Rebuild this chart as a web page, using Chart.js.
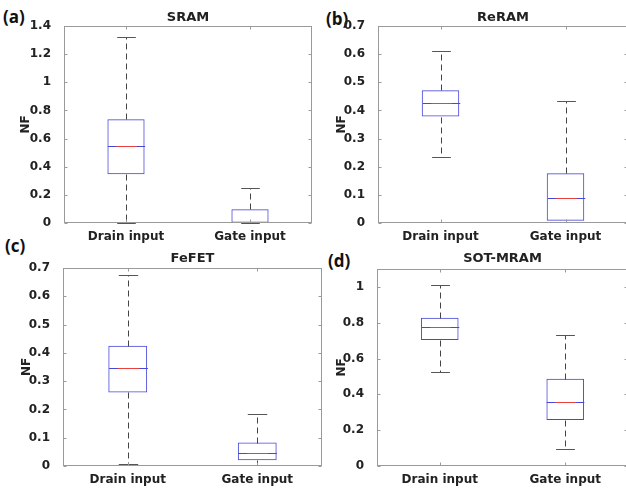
<!DOCTYPE html>
<html>
<head>
<meta charset="utf-8">
<script src="https://cdn.jsdelivr.net/npm/chart.js@4.4.1/dist/chart.umd.min.js"></script>
<style>
  html, body { margin: 0; padding: 0; background: #fff; overflow: hidden; }
  body { width: 626px; height: 489px; position: relative; }
  canvas { position: absolute; }
  .tag { position: absolute; font: bold 17px 'Open Sans', sans-serif; line-height: 1; color: #111; }
</style>
</head>
<body>
<div class="tag" style="left:3px;top:8px">(a)</div>
<div class="tag" style="left:326px;top:10px">(b)</div>
<div class="tag" style="left:5px;top:237px">(c)</div>
<div class="tag" style="left:328px;top:252px">(d)</div>
<canvas id="sram"></canvas>
<canvas id="reram"></canvas>
<canvas id="fefet"></canvas>
<canvas id="sot"></canvas>
<script>
const categories = ['Drain input', 'Gate input'];

// each box: [lower whisker, Q1, median, Q3, upper whisker]
const sramDrain = [0.002, 0.346, 0.549, 0.737, 1.324];
const sramGate = [0.000, 0.001, 0.004, 0.097, 0.247];
const reramDrain = [0.235, 0.378, 0.426, 0.472, 0.612];
const reramGate = [0.003, 0.008, 0.089, 0.177, 0.434];
const fefetDrain = [0.006, 0.260, 0.347, 0.425, 0.674];
const fefetGate = [0.002, 0.020, 0.045, 0.083, 0.183];
const sotDrain = [0.526, 0.703, 0.776, 0.828, 1.009];
const sotGate = [0.097, 0.257, 0.356, 0.487, 0.729];

const sramTicks = [0, 0.2, 0.4, 0.6, 0.8, 1, 1.2, 1.4];
const reramTicks = [0, 0.1, 0.2, 0.3, 0.4, 0.5, 0.6, 0.7];
const fefetTicks = [0, 0.1, 0.2, 0.3, 0.4, 0.5, 0.6, 0.7];
const sotTicks = [0, 0.2, 0.4, 0.6, 0.8, 1];

const FONT = "'DejaVu Sans', sans-serif";
const BOX = '#4848d8';
const AXIS = '#9a9a9a';
const TEXT = '#222';

// whiskers, caps and medians on top of the floating-bar boxes
const boxPlot = {
    id: 'boxPlot',
    afterDatasetsDraw(chart, args, opts) {
        const ctx = chart.ctx;
        const y = chart.scales.y;
        const meta = chart.getDatasetMeta(0);
        const line = (x1, y1, x2, y2) => {
            ctx.beginPath(); ctx.moveTo(x1, y1); ctx.lineTo(x2, y2); ctx.stroke();
        };
        ctx.save();
        ctx.lineWidth = 1;
        opts.stats.forEach((s, i) => {
            const bar = meta.data[i];
            const cx = Math.round(bar.x) + 0.5;
            const half = bar.width / 2;
            const [lo, q1, med, q3, hi] = s.map(v => Math.round(y.getPixelForValue(v)) + 0.5);
            ctx.strokeStyle = '#444';
            ctx.setLineDash([6, 4]);
            if (hi < q3) line(cx, q3, cx, hi);
            if (lo > q1) line(cx, q1, cx, lo);
            ctx.setLineDash([]);
            ctx.strokeStyle = '#555';
            line(cx - half / 2, hi, cx + half / 2, hi);
            line(cx - half / 2, lo, cx + half / 2, lo);
            ctx.strokeStyle = BOX;
            line(cx - half, med, cx + half, med);
            ctx.strokeStyle = '#e8413c';
            line(cx - half * 0.55, med, cx + half * 0.55, med);
        });
        ctx.restore();
    }
};

// matlab style frame with inward ticks
const frame = {
    id: 'frame',
    afterDraw(chart) {
        const {ctx, chartArea: a, scales: {x, y}} = chart;
        const l = Math.round(a.left) + 0.5, r = Math.round(a.right) - 0.5;
        const t = Math.round(a.top) + 0.5, b = Math.round(a.bottom) - 0.5;
        ctx.save();
        ctx.strokeStyle = AXIS;
        ctx.lineWidth = 1;
        ctx.strokeRect(l, t, r - l, b - t);
        ctx.beginPath();
        y.ticks.forEach(tk => {
            const py = Math.round(y.getPixelForValue(tk.value)) + 0.5;
            ctx.moveTo(l, py); ctx.lineTo(l + 3, py);
            ctx.moveTo(r, py); ctx.lineTo(r - 3, py);
        });
        categories.forEach((c, i) => {
            const px = Math.round(x.getPixelForValue(i)) + 0.5;
            ctx.moveTo(px, b); ctx.lineTo(px, b - 3);
            ctx.moveTo(px, t); ctx.lineTo(px, t + 3);
        });
        ctx.stroke();
        ctx.restore();
    }
};

const panels = [
    {id: 'sram', title: 'SRAM', stats: [sramDrain, sramGate], ticks: sramTicks, yMax: 1.4,
     left: 16, top: 4, width: 296, height: 245, nfPad: 2.8, titlePad: [5.7, 0.7]},
    {id: 'reram', title: 'ReRAM', stats: [reramDrain, reramGate], ticks: reramTicks, yMax: 0.7,
     left: 330, top: 4, width: 298, height: 245, nfPad: 4.8, titlePad: [5.4, 1.0]},
    {id: 'fefet', title: 'FeFET', stats: [fefetDrain, fefetGate], ticks: fefetTicks, yMax: 0.7,
     left: 15, top: 246, width: 307, height: 246, nfPad: 4.5, titlePad: [4.5, 1.9]},
    {id: 'sot', title: 'SOT-MRAM', stats: [sotDrain, sotGate], ticks: sotTicks, yMax: 1.1,
     left: 329, top: 247, width: 299, height: 245, nfPad: 5.8, titlePad: [3.5, 2.9]}
];

panels.forEach(p => {
    const el = document.getElementById(p.id);
    el.width = p.width;
    el.height = p.height;
    el.style.left = p.left + 'px';
    el.style.top = p.top + 'px';

    new Chart(el, {
        type: 'bar',
        data: {
            labels: categories,
            datasets: [{
                data: p.stats.map(s => [s[1], s[3]]),
                backgroundColor: 'rgba(0,0,0,0)',
                borderColor: BOX,
                borderWidth: 1,
                borderSkipped: false,
                barPercentage: 0.3,
                categoryPercentage: 1
            }]
        },
        options: {
            responsive: false,
            animation: false,
            layout: {padding: 0},
            plugins: {
                legend: {display: false},
                tooltip: {enabled: false},
                title: {
                    display: true,
                    text: p.title,
                    fullSize: false,
                    color: TEXT,
                    font: {family: FONT, size: 13, weight: 'bold'},
                    padding: {top: p.titlePad[0], bottom: p.titlePad[1]}
                },
                boxPlot: {stats: p.stats}
            },
            scales: {
                x: {
                    offset: true,
                    grid: {display: false},
                    border: {display: false},
                    ticks: {color: TEXT, padding: -1, maxRotation: 0, font: {family: FONT, size: 12, weight: 'bold'}},
                    afterFit: s => { s.height = 26; }
                },
                y: {
                    min: 0,
                    max: p.yMax,
                    grid: {display: false},
                    border: {display: false},
                    afterBuildTicks: s => { s.ticks = p.ticks.map(v => ({value: v})); },
                    ticks: {
                        color: TEXT,
                        padding: 5,
                        font: {family: FONT, size: 12, weight: 'bold'},
                        callback: v => String(+v.toFixed(2))
                    },
                    title: {
                        display: true,
                        text: 'NF',
                        color: TEXT,
                        font: {family: FONT, size: 12, weight: 'bold'},
                        padding: {top: p.nfPad, bottom: 0}
                    },
                    afterFit: s => { s.width = 48; }
                }
            }
        },
        plugins: [boxPlot, frame]
    });
});
</script>
</body>
</html>
